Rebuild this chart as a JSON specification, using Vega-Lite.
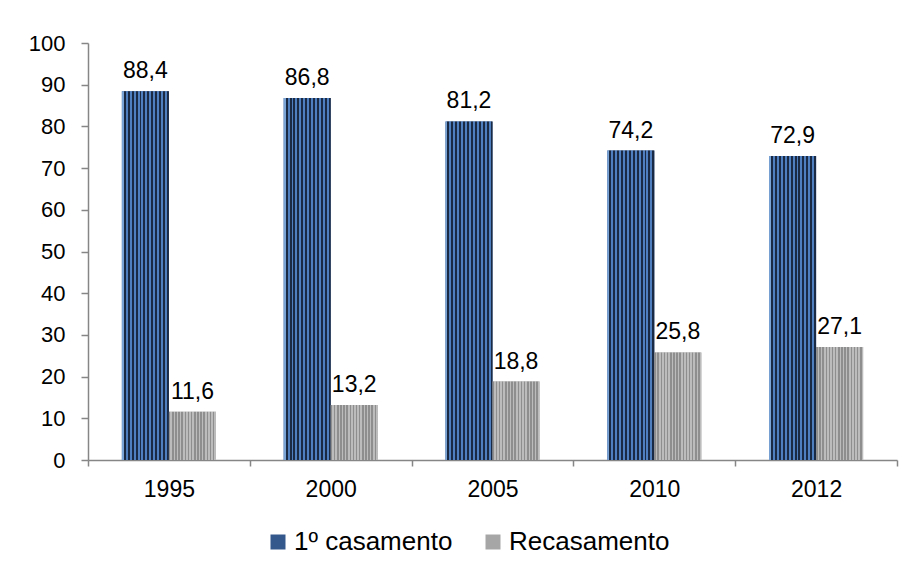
{
  "$schema": "https://vega.github.io/schema/vega-lite/v6.json",
  "width": 809,
  "height": 417,
  "autosize": {"type": "none"},
  "padding": {"left": 88, "top": 43, "right": 14, "bottom": 111},
  "background": "white",
  "config": {
    "view": {"stroke": null},
    "font": "Liberation Sans",
    "locale": {"number": {"decimal": ",", "thousands": ".", "grouping": [3], "currency": ["", " €"]}}
  },
  "data": {
    "values": [
      {"ano": "1995", "tipo": "1º casamento", "valor": 88.4},
      {"ano": "1995", "tipo": "Recasamento", "valor": 11.6},
      {"ano": "2000", "tipo": "1º casamento", "valor": 86.8},
      {"ano": "2000", "tipo": "Recasamento", "valor": 13.2},
      {"ano": "2005", "tipo": "1º casamento", "valor": 81.2},
      {"ano": "2005", "tipo": "Recasamento", "valor": 18.8},
      {"ano": "2010", "tipo": "1º casamento", "valor": 74.2},
      {"ano": "2010", "tipo": "Recasamento", "valor": 25.8},
      {"ano": "2012", "tipo": "1º casamento", "valor": 72.9},
      {"ano": "2012", "tipo": "Recasamento", "valor": 27.1}
    ]
  },
  "encoding": {
    "x": {
      "field": "ano", "type": "nominal", "sort": null,
      "scale": {"paddingInner": 0, "paddingOuter": 0},
      "axis": {
        "title": null, "labelAngle": 0, "tickBand": "extent", "tickSize": 6,
        "labelPadding": 12, "labelFontSize": 23, "labelColor": "black",
        "domainColor": "#868686", "tickColor": "#868686", "domainWidth": 1.5, "tickWidth": 1.5, "grid": false
      }
    },
    "xOffset": {
      "field": "tipo", "type": "nominal", "sort": ["1º casamento", "Recasamento"],
      "scale": {"paddingOuter": 0.72, "paddingInner": 0}
    },
    "y": {
      "field": "valor", "type": "quantitative",
      "scale": {"domain": [0, 100], "nice": false},
      "axis": {
        "title": null, "values": [0, 10, 20, 30, 40, 50, 60, 70, 80, 90, 100],
        "tickSize": 7, "labelPadding": 16, "labelFontSize": 22, "labelColor": "black",
        "domainColor": "#868686", "tickColor": "#868686", "domainWidth": 1.5, "tickWidth": 1.5, "grid": false
      }
    }
  },
  "layer": [
    {
      "mark": {"type": "bar"},
      "encoding": {
        "color": {
          "field": "tipo", "type": "nominal", "sort": ["1º casamento", "Recasamento"],
          "scale": {"range": ["#34578c", "#a6a6a6"]},
          "legend": {
            "title": null, "orient": "none", "direction": "horizontal",
            "legendX": 177, "legendY": 486,
            "symbolType": "square", "symbolSize": 225, "symbolStrokeWidth": 0,
            "labelFontSize": 26, "labelColor": "black", "labelOffset": 3, "columnPadding": 27,
            "labelLimit": 300
          }
        }
      }
    },
    {
      "transform": [{"filter": "datum.tipo === '1º casamento'"}],
      "mark": {"type": "bar", "fill": {"gradient": "linear", "x1": 0, "x2": 1, "y1": 0, "y2": 0, "stops": [
        {"offset": 0, "color": "#7aa3d6"}, {"offset": 0.0417, "color": "#7aa3d6"}, {"offset": 0.0417, "color": "#1a2a45"}, {"offset": 0.0833, "color": "#1a2a45"},
        {"offset": 0.0833, "color": "#4f7fbf"}, {"offset": 0.125, "color": "#4f7fbf"}, {"offset": 0.125, "color": "#1a2a45"}, {"offset": 0.1667, "color": "#1a2a45"},
        {"offset": 0.1667, "color": "#4f7fbf"}, {"offset": 0.2083, "color": "#4f7fbf"}, {"offset": 0.2083, "color": "#1a2a45"}, {"offset": 0.25, "color": "#1a2a45"},
        {"offset": 0.25, "color": "#4f7fbf"}, {"offset": 0.2917, "color": "#4f7fbf"}, {"offset": 0.2917, "color": "#1a2a45"}, {"offset": 0.3333, "color": "#1a2a45"},
        {"offset": 0.3333, "color": "#4f7fbf"}, {"offset": 0.375, "color": "#4f7fbf"}, {"offset": 0.375, "color": "#1a2a45"}, {"offset": 0.4167, "color": "#1a2a45"},
        {"offset": 0.4167, "color": "#4f7fbf"}, {"offset": 0.4583, "color": "#4f7fbf"}, {"offset": 0.4583, "color": "#1a2a45"}, {"offset": 0.5, "color": "#1a2a45"},
        {"offset": 0.5, "color": "#4f7fbf"}, {"offset": 0.5417, "color": "#4f7fbf"}, {"offset": 0.5417, "color": "#1a2a45"}, {"offset": 0.5833, "color": "#1a2a45"},
        {"offset": 0.5833, "color": "#4f7fbf"}, {"offset": 0.625, "color": "#4f7fbf"}, {"offset": 0.625, "color": "#1a2a45"}, {"offset": 0.6667, "color": "#1a2a45"},
        {"offset": 0.6667, "color": "#4f7fbf"}, {"offset": 0.7083, "color": "#4f7fbf"}, {"offset": 0.7083, "color": "#1a2a45"}, {"offset": 0.75, "color": "#1a2a45"},
        {"offset": 0.75, "color": "#4f7fbf"}, {"offset": 0.7917, "color": "#4f7fbf"}, {"offset": 0.7917, "color": "#1a2a45"}, {"offset": 0.8333, "color": "#1a2a45"},
        {"offset": 0.8333, "color": "#4f7fbf"}, {"offset": 0.875, "color": "#4f7fbf"}, {"offset": 0.875, "color": "#1a2a45"}, {"offset": 0.9167, "color": "#1a2a45"},
        {"offset": 0.9167, "color": "#4f7fbf"}, {"offset": 0.9583, "color": "#4f7fbf"}, {"offset": 0.9583, "color": "#1a2a45"}, {"offset": 1, "color": "#1a2a45"}
      ]}},
      "encoding": {}
    },
    {
      "transform": [{"filter": "datum.tipo === 'Recasamento'"}],
      "mark": {"type": "bar", "fill": {"gradient": "linear", "x1": 0, "x2": 1, "y1": 0, "y2": 0, "stops": [
        {"offset": 0, "color": "#8e8e8e"}, {"offset": 0.0333, "color": "#8e8e8e"}, {"offset": 0.0333, "color": "#bcbcbc"}, {"offset": 0.0667, "color": "#bcbcbc"},
        {"offset": 0.0667, "color": "#8e8e8e"}, {"offset": 0.1, "color": "#8e8e8e"}, {"offset": 0.1, "color": "#bcbcbc"}, {"offset": 0.1333, "color": "#bcbcbc"},
        {"offset": 0.1333, "color": "#8e8e8e"}, {"offset": 0.1667, "color": "#8e8e8e"}, {"offset": 0.1667, "color": "#bcbcbc"}, {"offset": 0.2, "color": "#bcbcbc"},
        {"offset": 0.2, "color": "#8e8e8e"}, {"offset": 0.2333, "color": "#8e8e8e"}, {"offset": 0.2333, "color": "#bcbcbc"}, {"offset": 0.2667, "color": "#bcbcbc"},
        {"offset": 0.2667, "color": "#8e8e8e"}, {"offset": 0.3, "color": "#8e8e8e"}, {"offset": 0.3, "color": "#bcbcbc"}, {"offset": 0.3333, "color": "#bcbcbc"},
        {"offset": 0.3333, "color": "#8e8e8e"}, {"offset": 0.3667, "color": "#8e8e8e"}, {"offset": 0.3667, "color": "#bcbcbc"}, {"offset": 0.4, "color": "#bcbcbc"},
        {"offset": 0.4, "color": "#8e8e8e"}, {"offset": 0.4333, "color": "#8e8e8e"}, {"offset": 0.4333, "color": "#bcbcbc"}, {"offset": 0.4667, "color": "#bcbcbc"},
        {"offset": 0.4667, "color": "#8e8e8e"}, {"offset": 0.5, "color": "#8e8e8e"}, {"offset": 0.5, "color": "#bcbcbc"}, {"offset": 0.5333, "color": "#bcbcbc"},
        {"offset": 0.5333, "color": "#8e8e8e"}, {"offset": 0.5667, "color": "#8e8e8e"}, {"offset": 0.5667, "color": "#bcbcbc"}, {"offset": 0.6, "color": "#bcbcbc"},
        {"offset": 0.6, "color": "#8e8e8e"}, {"offset": 0.6333, "color": "#8e8e8e"}, {"offset": 0.6333, "color": "#bcbcbc"}, {"offset": 0.6667, "color": "#bcbcbc"},
        {"offset": 0.6667, "color": "#8e8e8e"}, {"offset": 0.7, "color": "#8e8e8e"}, {"offset": 0.7, "color": "#bcbcbc"}, {"offset": 0.7333, "color": "#bcbcbc"},
        {"offset": 0.7333, "color": "#8e8e8e"}, {"offset": 0.7667, "color": "#8e8e8e"}, {"offset": 0.7667, "color": "#bcbcbc"}, {"offset": 0.8, "color": "#bcbcbc"},
        {"offset": 0.8, "color": "#8e8e8e"}, {"offset": 0.8333, "color": "#8e8e8e"}, {"offset": 0.8333, "color": "#bcbcbc"}, {"offset": 0.8667, "color": "#bcbcbc"},
        {"offset": 0.8667, "color": "#8e8e8e"}, {"offset": 0.9, "color": "#8e8e8e"}, {"offset": 0.9, "color": "#bcbcbc"}, {"offset": 0.9333, "color": "#bcbcbc"},
        {"offset": 0.9333, "color": "#8e8e8e"}, {"offset": 0.9667, "color": "#8e8e8e"}, {"offset": 0.9667, "color": "#bcbcbc"}, {"offset": 1, "color": "#bcbcbc"}
      ]}},
      "encoding": {}
    },
    {
      "mark": {"type": "text", "baseline": "alphabetic", "dy": -13, "fontSize": 23, "color": "black"},
      "encoding": {
        "text": {"field": "valor", "type": "quantitative", "format": ".1f"}
      }
    }
  ]
}
